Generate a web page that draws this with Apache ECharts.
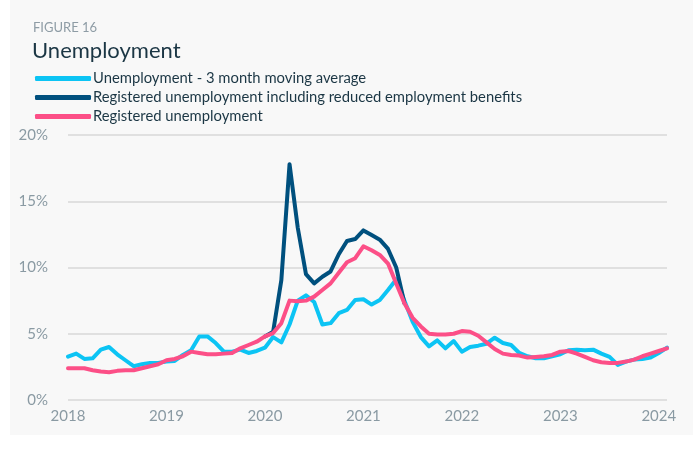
<!DOCTYPE html>
<html>
<head>
<meta charset="utf-8">
<script src="https://cdn.jsdelivr.net/npm/echarts@6/dist/echarts.min.js"></script>
<style>
html,body{margin:0;padding:0;background:#ffffff;}
#chart{width:693px;height:450px;}
</style>
</head>
<body>
<div id="chart"></div>
<script>
// Months Jan 2018 .. Feb 2024
const years = [2018, 2019, 2020, 2021, 2022, 2023, 2024];
const months = [];
for (const y of years) {
  for (let m = 1; m <= 12; m++) {
    if (y === 2024 && m > 2) break;
    months.push(y + '-' + String(m).padStart(2, '0'));
  }
}

const movingAvg = [
  3.27, 3.5, 3.1, 3.15, 3.8, 4.0, 3.45, 3.0, 2.55, 2.7, 2.8, 2.8,
  2.9, 2.95, 3.4, 3.75, 4.8, 4.8, 4.3, 3.65, 3.65, 3.8, 3.55, 3.7,
  3.95, 4.75, 4.35, 5.7, 7.5, 7.9, 7.4, 5.7, 5.8, 6.55, 6.8, 7.55,
  7.6, 7.2, 7.55, 8.3, 9.1, 7.5, 5.9, 4.75, 4.05, 4.5, 3.9, 4.45,
  3.65, 4.0, 4.1, 4.25, 4.7, 4.3, 4.15, 3.55, 3.3, 3.15, 3.15, 3.3,
  3.45, 3.75, 3.8, 3.75, 3.8, 3.5, 3.25, 2.65, 2.9, 3.05, 3.1, 3.2,
  3.55, 3.95
];

const inclReduced = [
  null, null, null, null, null, null, null, null, null, null, null, null,
  null, null, null, null, null, null, null, null, null, null, null, null,
  4.8, 5.15, 9.05, 17.8, 13.0, 9.5, 8.8, 9.3, 9.7, 11.0, 12.0, 12.15,
  12.8, 12.45, 12.1, 11.4, 10.0, 7.3, null, null, null, null, null, null,
  null, null, null, null, null, null, null, null, null, null, null, null,
  null, null, null, null, null, null, null, null, null, null, null, null,
  null, null
];

const registered = [
  2.4, 2.4, 2.4, 2.25, 2.15, 2.1, 2.2, 2.25, 2.25, 2.4, 2.55, 2.7,
  3.0, 3.1, 3.3, 3.65, 3.55, 3.45, 3.45, 3.5, 3.55, 3.9, 4.15, 4.4,
  4.8, 5.05, 5.8, 7.5, 7.45, 7.5, 7.8, 8.3, 8.8, 9.6, 10.4, 10.7,
  11.6, 11.3, 10.95, 10.3, 8.8, 7.3, 6.2, 5.55, 5.0, 4.95, 4.95, 5.0,
  5.2, 5.15, 4.85, 4.35, 3.85, 3.5, 3.4, 3.35, 3.2, 3.25, 3.3, 3.4,
  3.65, 3.7, 3.5, 3.25, 3.0, 2.85, 2.8, 2.8, 2.9, 3.05, 3.3, 3.5,
  3.7, 3.9
];

const seriesNames = [
  'Unemployment - 3 month moving average',
  'Registered unemployment including reduced employment benefits',
  'Registered unemployment'
];
const colors = ['#0cc4f4', '#00507e', '#fc4f87'];
const yTicks = [0, 5, 10, 15, 20];

const FONT = 'Lato';
const chart = echarts.init(document.getElementById('chart'), null, {renderer: 'canvas'});

function lineSeries(name, data, color, z) {
  return {
    name: name, type: 'line', data: data, showSymbol: false, symbol: 'none',
    connectNulls: false, z: z,
    lineStyle: {color: color, width: 4, cap: 'round', join: 'round'},
    itemStyle: {color: color}
  };
}

chart.setOption({
  animation: false,
  color: colors,
  graphic: [
    {type: 'rect', left: 10, top: 0, shape: {width: 683, height: 435}, style: {fill: '#f8f8f8'}, z: -10},
    {type: 'text', left: 33, top: 21, style: {text: 'FIGURE 16', fill: '#8e9ca5', font: '13px ' + FONT}},
    {type: 'text', left: 32, top: 40, style: {text: 'Unemployment', fill: '#1b3644', font: '22px ' + FONT}}
  ],
  legend: {
    orient: 'vertical', left: 35, top: 71, itemGap: 4, padding: 0,
    icon: 'roundRect', itemWidth: 56, itemHeight: 5,
    textStyle: {color: '#1b3644', fontSize: 14.8, fontFamily: FONT, padding: [0, 0, 0, -3]},
    data: seriesNames
  },
  grid: {left: 68, right: 26, top: 135, bottom: 50, containLabel: false},
  xAxis: {
    type: 'category', data: months, boundaryGap: false,
    axisLine: {show: false}, axisTick: {show: false},
    axisLabel: {
      color: '#8a9aa3', fontSize: 15, fontFamily: FONT, margin: 9,
      interval: function (i, v) { return v.endsWith('-01'); },
      formatter: function (v) { return v.slice(0, 4); }
    },
    splitLine: {show: false}
  },
  yAxis: {
    type: 'value', min: yTicks[0], max: yTicks[yTicks.length - 1], interval: 5,
    axisLine: {show: false}, axisTick: {show: false},
    axisLabel: {color: '#8a9aa3', fontSize: 15, fontFamily: FONT, margin: 20, formatter: '{value}%'},
    splitLine: {lineStyle: {color: '#d9d9d9', width: 1.5}}
  },
  series: [
    lineSeries(seriesNames[0], movingAvg, colors[0], 2),
    lineSeries(seriesNames[1], inclReduced, colors[1], 3),
    lineSeries(seriesNames[2], registered, colors[2], 4)
  ]
});
</script>
</body>
</html>
